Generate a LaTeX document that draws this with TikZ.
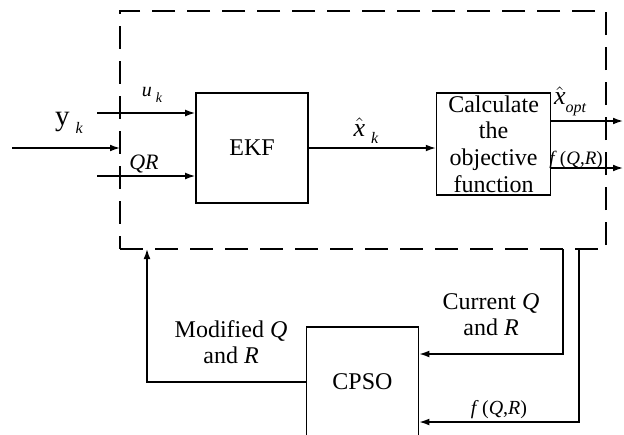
\documentclass[tikz,border=0pt]{standalone}
\usepackage{fontspec}
\setmainfont{Liberation Serif}
\usepackage{tikz}
\usetikzlibrary{positioning,arrows.meta}
% lowered italic index, as in u_k
\newcommand{\idx}[2][8]{\raisebox{-0.6ex}{\fontsize{#1}{#1}\selectfont\itshape #2}}
\newcommand{\xhat}{$\hat{\mbox{\textit{x}}}$}

\begin{document}
\begin{tikzpicture}[x=0.5pt,y=-0.5pt,>={Latex[length=5pt,width=3.4pt]},
  every node/.style={font=\fontsize{12}{13}\selectfont}]
\tikzstyle{blk}=[draw,line width=0.8pt,minimum width=56pt,minimum height=55pt,align=center,inner sep=1pt]
\tikzstyle{wire}=[line width=0.7pt]
\tikzstyle{lbl}=[inner sep=0pt,align=center]
\useasboundingbox (0,0) rectangle (624,434);
% estimator loop
\node[draw,line width=0.8pt,dash pattern=on 11.5pt off 6pt,minimum width=243pt,minimum height=119pt,inner sep=0pt,outer sep=0pt] (frame) at (363,130) {};
\node[blk] (ekf) at (252,148) {EKF};
\node[blk,right=63.5pt of ekf,yshift=2pt,minimum width=57pt,minimum height=51pt,font=\fontsize{12}{13.3}\selectfont] (calc) {Calculate\\the\\objective\\function};
\node[blk] (cpso) at (362.5,382) {CPSO};
% inputs
\coordinate (yin) at (12,148);
\coordinate (uin) at (97,113);
\coordinate (qrin) at (97,176);
\draw[wire,->] (yin) -- (yin -| frame.west);
\draw[wire,->] (uin) -- (uin -| ekf.west);
\draw[wire,->] (qrin) -- (qrin -| ekf.west);
\draw[wire,->] (ekf.east) -- (ekf.east -| calc.west);
% outputs
\coordinate (xout) at (623,121);
\coordinate (fout) at (623,168);
\draw[wire,->] (calc.east |- xout) -- (xout);
\draw[wire,->] (calc.east |- fout) -- (fout);
% feedback through CPSO
\coordinate (tapq) at (563,249);
\coordinate (tapf) at (579,249);
\coordinate (back) at (147,249);
\draw[wire,->] (tapq) |- ([yshift=14pt]cpso.east);
\draw[wire,->] (tapf) |- ([yshift=-20pt]cpso.east);
\draw[wire,->] (cpso.west) -| (back);
% labels
\node[lbl,font=\fontsize{14.5}{14}\selectfont] (ylab) at (69,123) {y\hspace{3pt}\idx{k}};
\node[lbl,font=\fontsize{10}{10}\selectfont] (ulab) at (152,95) {\textit{u}\hspace{2pt}\idx[7]{k}};
\node[lbl,font=\fontsize{11}{11}\selectfont] (qrlab) at (144,164) {\textit{QR}};
\node[lbl,font=\fontsize{13}{13}\selectfont] (xklab) at (366,131) {\xhat\hspace{3pt}\idx{k}};
\node[lbl,font=\fontsize{13}{13}\selectfont] (xolab) at (570,101) {\xhat\idx{opt}};
\node[lbl,font=\fontsize{9.5}{10}\selectfont] (flab) at (576,160) {\textit{f}\,(\textit{Q},\textit{R})};
\node[lbl] (curlab) at (491,315) {Current \textit{Q}\\and \textit{R}};
\node[lbl,font=\fontsize{10}{10}\selectfont] (fblab) at (499,410) {\textit{f}\,(\textit{Q},\textit{R})};
\node[lbl] (modlab) at (231,342) {Modified \textit{Q}\\and \textit{R}};
\end{tikzpicture}
\end{document}
